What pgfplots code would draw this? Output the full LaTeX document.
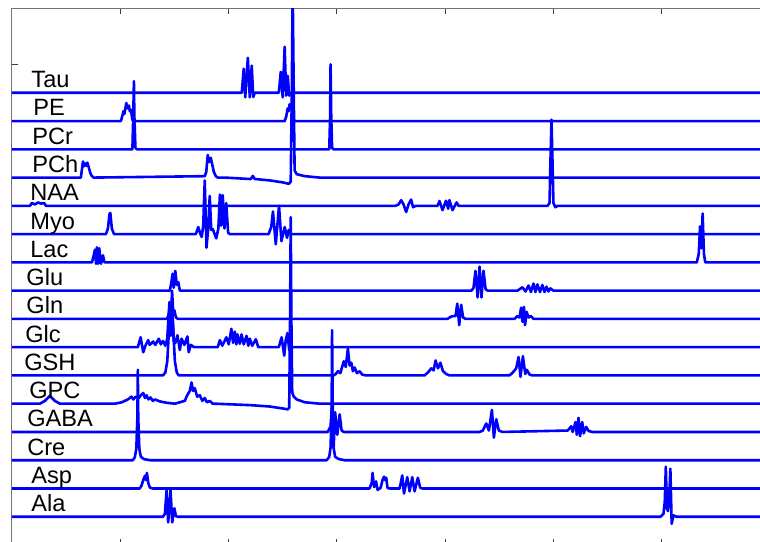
\documentclass[border=0pt]{standalone}
\usepackage{pgfplots}
\pgfplotsset{compat=1.18}
\usepackage{fontspec}
\setmainfont{Liberation Sans}
\definecolor{specblue}{RGB}{0,0,255}
\pgfplotsset{spec/.style={draw=specblue, solid, line width=1.3pt, line join=round, mark=none}}
\begin{document}
\begin{tikzpicture}
\begin{axis}[
  at={(6pt,-4pt)}, anchor=north west,
  width=379pt, height=268.5pt, scale only axis,
  xmin=1.0, xmax=4.5, x dir=reverse,
  ymin=-1, ymax=18,
  xtick={1,1.5,2,2.5,3,3.5,4,4.5}, ytick={16},
  xticklabels={}, yticklabels={},
  tick align=inside, major tick length=3pt,
  axis line style={black!55, line width=0.5pt},
  tick style={black!75, line width=0.5pt},
  clip=true,
]
% Tau (15)
\addplot[spec] coordinates {(4.6,15) (3.439,15) (3.430,15.85) (3.423,14.84) (3.411,16.24) (3.402,14.84) (3.393,15.96) (3.386,14.85) (3.379,15) (3.268,15) (3.259,15.74) (3.250,14.84) (3.241,16.63) (3.234,14.9) (3.227,15.6) (3.220,14.9) (3.213,15) (0.9,15)};
% PE (14)
\addplot[spec] coordinates {(4.6,14) (3.997,14) (3.990,14.2) (3.985,14.35) (3.981,14.25) (3.972,14.64) (3.967,14.45) (3.960,14.55) (3.956,14.35) (3.951,14.4) (3.944,14.05) (3.937,14) (3.241,14) (3.234,14.15) (3.227,14.45) (3.222,14.35) (3.218,14.6) (3.213,14.45) (3.208,14.5) (3.201,14.1) (3.195,14) (0.9,14)};
% PCr (13)
\addplot[spec] coordinates {(4.6,13) (3.944,13) (3.940,14.2) (3.937,15.41) (3.935,14.2) (3.930,13.05) (3.923,13) (3.035,13) (3.031,14.2) (3.029,16.01) (3.026,14.2) (3.022,13.05) (3.015,13) (0.9,13)};
% PCh (12)
\addplot[spec] coordinates {(4.6,12) (4.182,12) (4.177,12.3) (4.172,12.57) (4.168,12.4) (4.161,12.5) (4.156,12.42) (4.152,12.53) (4.145,12.35) (4.138,12.15) (4.131,12.05) (4.122,12) (3.610,12.05) (3.603,12.2) (3.596,12.8) (3.589,12.55) (3.582,12.7) (3.575,12.45) (3.568,12.2) (3.559,12.05) (3.550,12) (3.517,12) (3.402,11.95) (3.397,11.95) (3.388,12.06) (3.379,11.95) (3.310,11.9) (3.250,11.83) (3.222,11.78) (3.213,11.85) (3.208,15) (3.204,18.8) (3.199,15) (3.195,12.25) (3.185,12.12) (3.148,12.05) (3.079,12) (0.9,12)};
% NAA (11)
\addplot[spec] coordinates {(4.6,11) (4.417,11) (4.408,11.1) (4.394,11.05) (4.380,11.12) (4.366,11.08) (4.352,11.1) (4.343,11) (2.729,11) (2.715,11.05) (2.703,11.2) (2.692,11.05) (2.680,10.78) (2.669,11.05) (2.657,11.22) (2.648,10.95) (2.636,11) (2.535,11) (2.526,11.17) (2.512,10.85) (2.496,11.18) (2.486,10.9) (2.480,11.2) (2.466,10.85) (2.447,11.12) (2.438,11) (2.027,11) (2.018,11.1) (2.014,12.5) (2.009,14.05) (2.004,12.5) (2.000,11.1) (1.991,10.95) (1.981,11) (0.9,11)};
% Myo (10)
\addplot[spec] coordinates {(4.6,10) (4.066,10) (4.057,10.2) (4.050,10.7) (4.046,10.75) (4.039,10.2) (4.029,10) (3.651,10) (3.640,10.25) (3.630,10) (3.624,9.9) (3.617,10.3) (3.610,11.9) (3.602,9.52) (3.594,10.2) (3.587,11.35) (3.580,10.15) (3.573,10.18) (3.557,9.85) (3.547,10.2) (3.540,11.4) (3.534,10.3) (3.527,11.38) (3.519,10.2) (3.511,11.1) (3.502,10.05) (3.494,10) (3.315,10) (3.303,10.25) (3.295,10.8) (3.282,9.64) (3.267,11.0) (3.256,9.75) (3.241,10.25) (3.230,9.87) (3.222,10.15) (3.213,10) (0.9,10)};
% Lac (9)
\addplot[spec] coordinates {(4.6,9) (4.131,9) (4.124,9.2) (4.117,9.45) (4.112,8.95) (4.108,9.53) (4.103,8.95) (4.097,9.5) (4.089,8.95) (4.080,9.25) (4.073,9) (1.338,9) (1.329,9.3) (1.323,10.27) (1.317,9.5) (1.311,10.73) (1.305,9.3) (1.299,9) (0.9,9)};
% Glu (8)
\addplot[spec] coordinates {(4.6,8) (3.771,8) (3.764,8.3) (3.758,8.6) (3.753,8.1) (3.746,8.7) (3.739,8.2) (3.732,8.3) (3.725,8) (2.378,8) (2.369,8.1) (2.360,8.7) (2.350,7.76) (2.341,8.85) (2.332,7.76) (2.323,8.7) (2.313,8.05) (2.304,8) (2.166,8) (2.143,8.12) (2.129,7.97) (2.115,8.18) (2.104,7.95) (2.092,8.25) (2.083,7.95) (2.074,8.22) (2.062,7.95) (2.051,8.2) (2.041,7.95) (2.032,8.14) (2.023,7.97) (2.014,8.08) (2.000,8) (0.9,8)};
% Gln (7)
\addplot[spec] coordinates {(4.6,7) (3.785,7) (3.776,7.15) (3.770,7.55) (3.765,7.2) (3.761,8.0) (3.756,7.3) (3.750,7.3) (3.743,7.05) (3.734,7) (2.489,7) (2.473,7.08) (2.461,7.1) (2.452,7.1) (2.444,7.54) (2.435,6.78) (2.426,7.5) (2.417,7.05) (2.406,7) (2.180,7) (2.166,7.1) (2.157,7.05) (2.149,7.4) (2.143,6.9) (2.136,7.42) (2.131,6.78) (2.124,7.25) (2.115,7.05) (2.104,7.1) (2.092,7) (0.9,7)};
% Glc (6)
\addplot[spec] coordinates {(4.6,6) (3.919,6) (3.906,6.35) (3.894,5.82) (3.884,6.05) (3.871,6.25) (3.864,6.08) (3.848,6.2) (3.838,6.08) (3.822,6.3) (3.813,6.1) (3.803,6.22) (3.792,6.05) (3.783,6.3) (3.773,7.6) (3.767,6.4) (3.760,7.3) (3.753,6.2) (3.746,6.15) (3.736,6.42) (3.725,5.9) (3.717,6.3) (3.704,6.08) (3.690,6.38) (3.684,5.82) (3.674,6.08) (3.660,6) (3.550,6) (3.540,6.25) (3.529,6.05) (3.510,6.35) (3.499,6.1) (3.487,6.65) (3.479,6.15) (3.471,6.55) (3.464,6.1) (3.459,6.45) (3.448,6.12) (3.440,6.45) (3.430,6.1) (3.417,6.4) (3.409,6.05) (3.402,6.3) (3.391,6.05) (3.374,6.28) (3.363,6) (3.268,6) (3.255,6.35) (3.243,5.7) (3.236,6.25) (3.228,6.5) (3.220,5.9) (3.213,6) (0.9,6)};
% GSH (5)
\addplot[spec] coordinates {(4.6,5) (3.803,5) (3.792,5.1) (3.783,5.5) (3.776,6.5) (3.769,7.5) (3.762,7.6) (3.755,6.6) (3.748,5.5) (3.739,5.1) (3.730,5) (3.015,5) (3.005,5.05) (2.995,5.15) (2.984,5.08) (2.968,5.5) (2.959,5.3) (2.949,5.95) (2.941,5.35) (2.933,5.45) (2.926,5.15) (2.918,5.28) (2.907,5.08) (2.895,5.15) (2.883,5.03) (2.867,5) (2.595,5) (2.580,5.1) (2.564,5.25) (2.553,5.18) (2.544,5.53) (2.533,5.25) (2.522,5.45) (2.510,5.15) (2.495,5.05) (2.480,5) (2.203,5) (2.188,5.1) (2.172,5.25) (2.161,5.65) (2.152,4.95) (2.141,5.68) (2.130,5.05) (2.123,5.2) (2.110,5.03) (2.097,5) (0.9,5)};
% GPC (4)
\addplot[spec] coordinates {(4.6,4) (4.371,4) (4.348,4.1) (4.325,4.28) (4.302,4.1) (4.279,4) (4.025,4) (3.993,4.05) (3.965,4.15) (3.948,4.25) (3.940,4.15) (3.928,4.25) (3.914,4.2) (3.905,4.3) (3.894,4.38) (3.886,4.2) (3.879,4.3) (3.870,4.15) (3.860,4.22) (3.850,4.1) (3.840,4.15) (3.817,4.08) (3.785,4.03) (3.748,4) (3.702,4.1) (3.691,4.3) (3.679,4.45) (3.671,4.75) (3.664,4.45) (3.656,4.55) (3.645,4.25) (3.633,4.3) (3.621,4.1) (3.610,4.2) (3.600,4.05) (3.587,4.1) (3.573,4) (3.564,4) (3.402,3.95) (3.310,3.9) (3.241,3.82) (3.227,3.8) (3.220,3.85) (3.216,7) (3.213,10.6) (3.210,7) (3.206,4.4) (3.199,4.25) (3.185,4.15) (3.148,4.05) (3.079,4) (0.9,4)};
% GABA (3)
\addplot[spec] coordinates {(4.6,3) (3.042,3) (3.029,3.2) (3.022,4.0) (3.015,2.43) (3.008,3.7) (2.998,2.9) (2.987,3.62) (2.978,3.05) (2.968,3) (2.341,3) (2.326,3.05) (2.310,3.3) (2.298,3.05) (2.284,3.78) (2.275,2.8) (2.264,3.45) (2.252,3.05) (2.235,3) (1.934,3.05) (1.918,3.2) (1.911,3) (1.898,3.35) (1.892,2.9) (1.884,3.5) (1.877,2.85) (1.867,3.35) (1.860,2.95) (1.849,3.18) (1.837,3.03) (1.820,3) (0.9,3)};
% Cre (2)
\addplot[spec] coordinates {(4.6,2) (3.942,2) (3.933,2.1) (3.926,2.4) (3.921,3.5) (3.919,5.2) (3.917,3.5) (3.912,2.4) (3.905,2.12) (3.891,2.04) (3.863,2) (3.047,2) (3.035,2.12) (3.029,2.45) (3.024,3.8) (3.022,6.6) (3.019,3.8) (3.015,2.45) (3.008,2.12) (2.991,2.04) (2.964,2) (0.9,2)};
% Asp (1)
\addplot[spec] coordinates {(4.6,1) (3.910,1) (3.902,1.1) (3.894,1.3) (3.886,1.45) (3.882,1.3) (3.877,1.55) (3.871,1.2) (3.863,1.03) (3.850,1) (2.849,1) (2.839,1.2) (2.835,1.55) (2.828,1.05) (2.819,1.25) (2.812,0.95) (2.798,1.02) (2.789,1.3) (2.782,1.42) (2.777,1.3) (2.772,1.38) (2.766,1.02) (2.756,1) (2.710,1) (2.698,1.46) (2.690,0.82) (2.675,1.4) (2.664,0.9) (2.652,1.4) (2.641,0.9) (2.626,1.38) (2.615,1.02) (2.604,1) (0.9,1)};
% Ala (0)
\addplot[spec] coordinates {(4.6,0) (3.803,0) (3.794,0.1) (3.786,0.95) (3.779,-0.2) (3.773,0.3) (3.768,0.95) (3.760,-0.2) (3.750,0.3) (3.743,0.02) (3.734,0) (1.506,0) (1.492,0.1) (1.486,0.5) (1.481,1.77) (1.476,0.3) (1.471,0.2) (1.466,0.5) (1.460,1.7) (1.454,-0.25) (1.446,0.05) (1.432,0) (0.9,0)};
% labels
\begin{scope}[every node/.style={anchor=base west, inner sep=0pt, font=\fontsize{11.8}{14}\selectfont}]
\node at (axis cs:4.412,15.18) {Tau};
\node at (axis cs:4.403,14.18) {PE};
\node at (axis cs:4.408,13.18) {PCr};
\node at (axis cs:4.408,12.18) {PCh};
\node at (axis cs:4.417,11.18) {NAA};
\node at (axis cs:4.417,10.18) {Myo};
\node at (axis cs:4.417,9.18) {Lac};
\node at (axis cs:4.435,8.18) {Glu};
\node at (axis cs:4.435,7.18) {Gln};
\node at (axis cs:4.440,6.18) {Glc};
\node at (axis cs:4.445,5.18) {GSH};
\node at (axis cs:4.422,4.18) {GPC};
\node at (axis cs:4.431,3.18) {GABA};
\node at (axis cs:4.431,2.18) {Cre};
\node at (axis cs:4.412,1.18) {Asp};
\node at (axis cs:4.412,0.18) {Ala};
\end{scope}
\end{axis}
\pgfresetboundingbox
\useasboundingbox (0,0) rectangle (380pt,-270.5pt);
\end{tikzpicture}
\end{document}
